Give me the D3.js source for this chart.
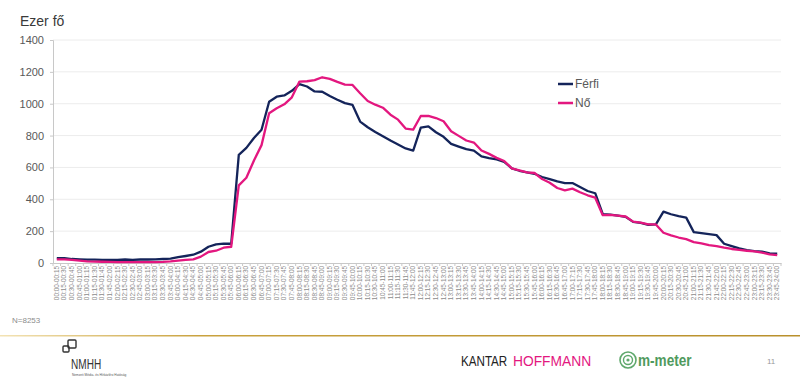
<!DOCTYPE html>
<html>
<head>
<meta charset="utf-8">
<script src="https://cdn.jsdelivr.net/npm/d3@7"></script>
<style>
  body { margin: 0; background: #fff; }
  svg { display: block; font-family: "Liberation Sans", Arial, sans-serif; }
</style>
</head>
<body>
<script>
// time slots 00:00-00:15 ... 23:45-24:00
function pad(n) { return (n < 10 ? '0' : '') + n; }
const slots = [];
for (let q = 0; q < 96; q++) {
    const a = q * 15, b = a + 15;
    slots.push(pad(Math.floor(a / 60)) + ':' + pad(a % 60) + '-' + pad(Math.floor(b / 60)) + ':' + pad(b % 60));
}

// values in thousands (Ezer fő)
const ferfi = [31, 31, 25, 23, 21, 21, 20, 20, 20, 22, 20, 22, 22, 23, 25, 27,
    37, 44, 52, 71, 102, 117, 121, 121, 679, 723, 785, 837, 1012, 1044, 1052, 1081,
    1123, 1108, 1077, 1075, 1048, 1025, 1004, 992, 888, 852, 823, 796, 769, 744, 719, 706,
    850, 858, 821, 792, 748, 731, 715, 706, 669, 658, 650, 635, 594, 579, 569, 560,
    540, 527, 512, 502, 502, 477, 452, 438, 306, 304, 298, 290, 258, 252, 240, 242,
    323, 306, 294, 285, 194, 187, 181, 175, 121, 106, 92, 81, 75, 71, 60, 58];

const no = [23, 23, 19, 15, 10, 9, 8, 7, 6, 6, 6, 6, 6, 6, 7, 10,
    15, 19, 23, 40, 69, 77, 96, 102, 487, 535, 644, 740, 940, 971, 996, 1040,
    1139, 1141, 1148, 1166, 1156, 1137, 1120, 1118, 1066, 1017, 994, 975, 931, 900, 844, 837,
    923, 923, 910, 890, 827, 798, 769, 756, 706, 685, 660, 640, 594, 581, 569, 565,
    527, 504, 471, 456, 467, 444, 425, 410, 300, 302, 298, 292, 260, 254, 242, 242,
    190, 173, 160, 150, 131, 123, 112, 106, 96, 88, 83, 77, 73, 65, 54, 50];

const yTicks = [0, 200, 400, 600, 800, 1000, 1200, 1400];
const seriesNames = ['Férfi', 'Nő'];
const seriesColors = ['#14245a', '#e3177f'];

const width = 800, height = 385;
const svg = d3.select('body').append('svg')
    .attr('width', width)
    .attr('height', height);

const x = d3.scaleBand().domain(slots).range([53, 781]).padding(0);
const y = d3.scaleLinear().domain([0, 1400]).range([263, 40]);

// gridlines
svg.append('g')
    .selectAll('line')
    .data(yTicks.filter(d => d > 0))
    .enter().append('line')
    .attr('x1', 53).attr('x2', 781)
    .attr('y1', d => y(d)).attr('y2', d => y(d))
    .attr('stroke', '#ececec')
    .attr('stroke-width', 1);

// y axis
const yAxis = svg.append('g')
    .attr('transform', 'translate(53,0)')
    .call(d3.axisLeft(y).tickValues(yTicks).tickSize(3).tickFormat(d3.format('d')));
yAxis.select('.domain').attr('stroke', '#c8c8c8');
yAxis.selectAll('.tick line').attr('stroke', '#c8c8c8');
yAxis.selectAll('text')
    .attr('x', -9)
    .attr('fill', '#595959')
    .style('font-size', '11px')
    .style('font-family', '"Liberation Sans", Arial, sans-serif');

// x axis with labels
const xAxis = svg.append('g')
    .attr('transform', 'translate(0,263)')
    .call(d3.axisBottom(x).tickSize(0).tickSizeOuter(0));
xAxis.select('.domain').attr('stroke', '#c8c8c8');
xAxis.selectAll('text')
    .attr('transform', 'rotate(-90)')
    .attr('x', -3)
    .attr('y', 0)
    .attr('dy', '0.32em')
    .attr('text-anchor', 'end')
    .attr('fill', '#8c8c8c')
    .style('font-size', '6.4px')
    .style('font-family', '"Liberation Sans", Arial, sans-serif');

// tick marks between categories
svg.append('g')
    .selectAll('line')
    .data(slots.concat(['end']))
    .enter().append('line')
    .attr('x1', (d, i) => 53 + i * x.bandwidth())
    .attr('x2', (d, i) => 53 + i * x.bandwidth())
    .attr('y1', 263).attr('y2', 266)
    .attr('stroke', '#c8c8c8');

// lines
const line = d3.line()
    .x((d, i) => x(slots[i]) + x.bandwidth() / 2)
    .y(d => y(d));

[ferfi, no].forEach((vals, k) => {
    svg.append('path')
        .datum(vals)
        .attr('fill', 'none')
        .attr('stroke', seriesColors[k])
        .attr('stroke-width', 2.3)
        .attr('stroke-linejoin', 'round')
        .attr('d', line);
});

// legend
seriesNames.forEach((name, k) => {
    const ly = 84 + k * 19;
    svg.append('line')
        .attr('x1', 558).attr('x2', 573)
        .attr('y1', ly).attr('y2', ly)
        .attr('stroke', seriesColors[k])
        .attr('stroke-width', 2.5);
    svg.append('text')
        .attr('x', 575).attr('y', ly + 4)
        .attr('fill', '#595959')
        .style('font-size', '12px')
        .text(name);
});

// unit title
svg.append('text')
    .attr('x', 20).attr('y', 26)
    .attr('fill', '#3a3a3a')
    .style('font-size', '14px')
    .text('Ezer fő');

// sample size
svg.append('text')
    .attr('x', 12).attr('y', 323)
    .attr('fill', '#8c8c8c')
    .style('font-size', '8px')
    .text('N=8253');

// footer gold line
const grad = svg.append('defs').append('linearGradient')
    .attr('id', 'gold').attr('x1', '0%').attr('x2', '100%');
grad.append('stop').attr('offset', '0%').attr('stop-color', '#f3e3b5');
grad.append('stop').attr('offset', '25%').attr('stop-color', '#c9a23f');
grad.append('stop').attr('offset', '100%').attr('stop-color', '#b9902c');
svg.append('rect')
    .attr('x', 0).attr('y', 335)
    .attr('width', 800).attr('height', 1.5)
    .attr('fill', 'url(#gold)');

// NMHH logo
const logo = svg.append('g');
logo.append('rect').attr('x', 63).attr('y', 346).attr('width', 6).attr('height', 6)
    .attr('fill', 'none').attr('stroke', '#333').attr('stroke-width', 1.4).attr('rx', 1);
logo.append('rect').attr('x', 68).attr('y', 340).attr('width', 8).attr('height', 8)
    .attr('fill', 'none').attr('stroke', '#333').attr('stroke-width', 1.4).attr('rx', 1);
logo.append('text').attr('transform', 'translate(71,369) scale(0.72,1)')
    .attr('fill', '#333').style('font-size', '14px')
    .text('NMHH');
logo.append('text').attr('x', 72).attr('y', 376)
    .attr('fill', '#555').style('font-size', '3.2px')
    .text('Nemzeti Média- és Hírközlési Hatóság');

// Kantar Hoffmann
svg.append('text').attr('transform', 'translate(461,366) scale(0.75,1)')
    .attr('fill', '#222')
    .style('font-size', '15.5px')
    .text('KANTAR');
svg.append('text').attr('transform', 'translate(513,366) scale(0.89,1)')
    .attr('fill', '#e3177f')
    .style('font-size', '15.5px')
    .text('HOFFMANN');

// m-meter
svg.append('circle').attr('cx', 628).attr('cy', 360).attr('r', 8)
    .attr('fill', 'none').attr('stroke', '#5fa86c').attr('stroke-width', 1.6);
svg.append('circle').attr('cx', 628).attr('cy', 360).attr('r', 4.5)
    .attr('fill', 'none').attr('stroke', '#5fa86c').attr('stroke-width', 1.4);
svg.append('circle').attr('cx', 628).attr('cy', 360).attr('r', 1.6)
    .attr('fill', '#5fa86c');
svg.append('text').attr('transform', 'translate(638,366) scale(0.8,1)')
    .attr('fill', '#4f9a5d')
    .style('font-size', '17px').style('font-weight', 'bold')
    .text('m-meter');

// page number
svg.append('text').attr('x', 767).attr('y', 364)
    .attr('fill', '#999').style('font-size', '8px')
    .text('11');
</script>
</body>
</html>
